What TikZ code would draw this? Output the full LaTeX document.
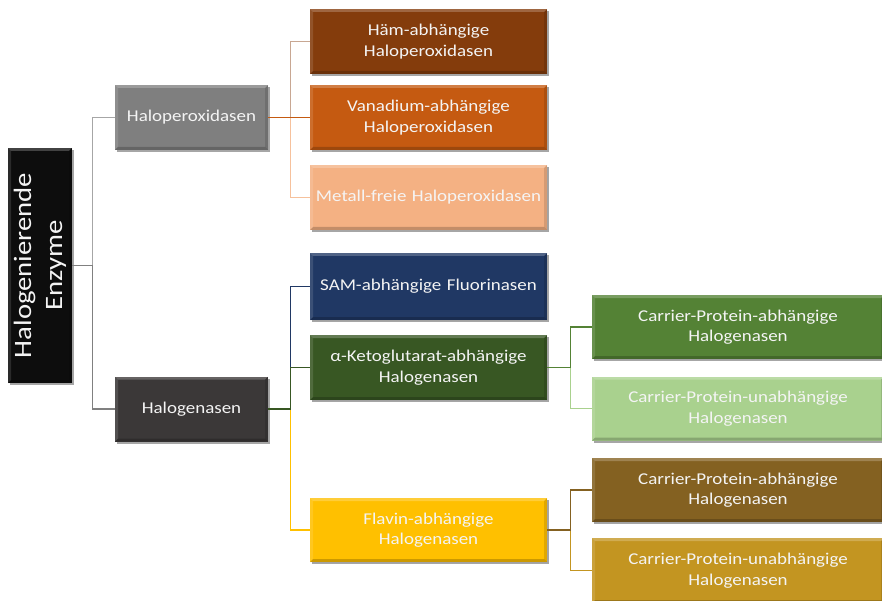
\documentclass[tikz,border=0pt]{standalone}
\usepackage{fontspec}
\setmainfont{Carlito}[FakeStretch=1.15]
\usetikzlibrary{shadows}
\definecolor{cRoot}{HTML}{0D0D0D}
\definecolor{cHP}{HTML}{7F7F7F}
\definecolor{cHG}{HTML}{3B3838}
\definecolor{cHaem}{HTML}{843C0C}
\definecolor{cVan}{HTML}{C55A11}
\definecolor{cMet}{HTML}{F4B183}
\definecolor{cSam}{HTML}{203864}
\definecolor{cKeto}{HTML}{385723}
\definecolor{cCa}{HTML}{548235}
\definecolor{cCb}{HTML}{A9D18E}
\definecolor{cFlav}{HTML}{FFC000}
\definecolor{cCc}{HTML}{846121}
\definecolor{cCd}{HTML}{C39521}
\definecolor{cText}{HTML}{F4F4F4}
\tikzset{
  box/.style={draw=none, text=cText, align=center, inner sep=0pt,
    font=\fontsize{16.5}{20.5}\selectfont,
    drop shadow={shadow xshift=2pt, shadow yshift=-2pt, opacity=0.35, fill=black},
    path picture={
      \fill[white,opacity=0.22] (path picture bounding box.north west) -- (path picture bounding box.north east)
        -- ([xshift=-3pt,yshift=-3pt]path picture bounding box.north east) -- ([xshift=3pt,yshift=-3pt]path picture bounding box.north west) -- cycle;
      \fill[white,opacity=0.12] (path picture bounding box.north west) -- (path picture bounding box.south west)
        -- ([xshift=3pt,yshift=3pt]path picture bounding box.south west) -- ([xshift=3pt,yshift=-3pt]path picture bounding box.north west) -- cycle;
      \fill[black,opacity=0.2] (path picture bounding box.south west) -- (path picture bounding box.south east)
        -- ([xshift=-3pt,yshift=3pt]path picture bounding box.south east) -- ([xshift=3pt,yshift=3pt]path picture bounding box.south west) -- cycle;
      \fill[black,opacity=0.12] (path picture bounding box.north east) -- (path picture bounding box.south east)
        -- ([xshift=-3pt,yshift=3pt]path picture bounding box.south east) -- ([xshift=-3pt,yshift=-3pt]path picture bounding box.north east) -- cycle;
    }},
  lvlone/.style={box, minimum width=153pt, minimum height=65pt, text width=150pt},
  lvltwo/.style={box, minimum width=237pt, minimum height=65pt, text width=234pt},
  lvlthree/.style={box, minimum width=292pt, minimum height=64pt, text width=288pt},
  conn/.style={line width=1.4pt}
}
\begin{document}
\begin{tikzpicture}[x=1pt,y=-1pt]
\useasboundingbox (0,0) rectangle (882,601);

% nodes
\node[box, fill=cRoot, minimum width=64pt, minimum height=235pt] (root) at (40,265.5) {};
\node[rotate=90, text=cText, align=center, inner sep=0pt, font=\fontsize{25}{31}\selectfont] (rootlabel) at (root.center) {Halogenierende\\Enzyme};

\node[lvlone, fill=cHP] (hp) at (191.5,117.5) {Haloperoxidasen};
\node[lvlone, fill=cHG] (hg) at (191.5,409) {Halogenasen};

\node[lvltwo, fill=cHaem] (haem) at (428.5,41.5) {Häm-abhängige\\Haloperoxidasen};
\node[lvltwo, fill=cVan] (van) at (428.5,117.5) {Vanadium-abhängige\\Haloperoxidasen};
\node[lvltwo, fill=cMet] (met) at (428.5,197.5) {Metall-freie Haloperoxidasen};
\node[lvltwo, fill=cSam, minimum height=67pt] (sam) at (428.5,286.5) {SAM-abhängige Fluorinasen};
\node[lvltwo, fill=cKeto] (keto) at (428.5,367.5) {α-Ketoglutarat-abhängige\\Halogenasen};
\node[lvltwo, fill=cFlav, minimum height=64pt] (flav) at (428.5,530) {Flavin-abhängige\\Halogenasen};

\node[lvlthree, fill=cCa] (ca) at (738,327) {Carrier-Protein-abhängige\\Halogenasen};
\node[lvlthree, fill=cCb] (cb) at (738,408.5) {Carrier-Protein-unabhängige\\Halogenasen};
\node[lvlthree, fill=cCc] (cc) at (738,490) {Carrier-Protein-abhängige\\Halogenasen};
\node[lvlthree, fill=cCd, minimum height=65pt] (cd) at (738,570.5) {Carrier-Protein-unabhängige\\Halogenasen};

% connectors
\draw[conn, color=black!35] (root.east) -- ++(20,0) |- (hp.west);
\draw[conn, color=black!50] (root.east) -- ++(20,0) |- (hg.west);

\draw[conn, color=cHaem!45!white] (hp.east) -- ++(22,0) |- (haem.west);
\draw[conn, color=cMet!80!white] (hp.east) -- ++(22,0) |- (met.west);
\draw[conn, color=cVan] (hp.east) -- (van.west);

\draw[conn, color=cFlav] (hg.east) -- ++(22,0) |- (flav.west);
\draw[conn, color=cSam] (hg.east) -- ++(22,0) |- (sam.west);
\draw[conn, color=cKeto] (hg.east) -- ++(22,0) |- (keto.west);

\draw[conn, color=cCb] (keto.east) -- ++(23,0) |- (cb.west);
\draw[conn, color=cCa] (keto.east) -- ++(23,0) |- (ca.west);

\draw[conn, color=cCd] (flav.east) -- ++(23,0) |- (cd.west);
\draw[conn, color=cCc] (flav.east) -- ++(23,0) |- (cc.west);
\end{tikzpicture}
\end{document}
